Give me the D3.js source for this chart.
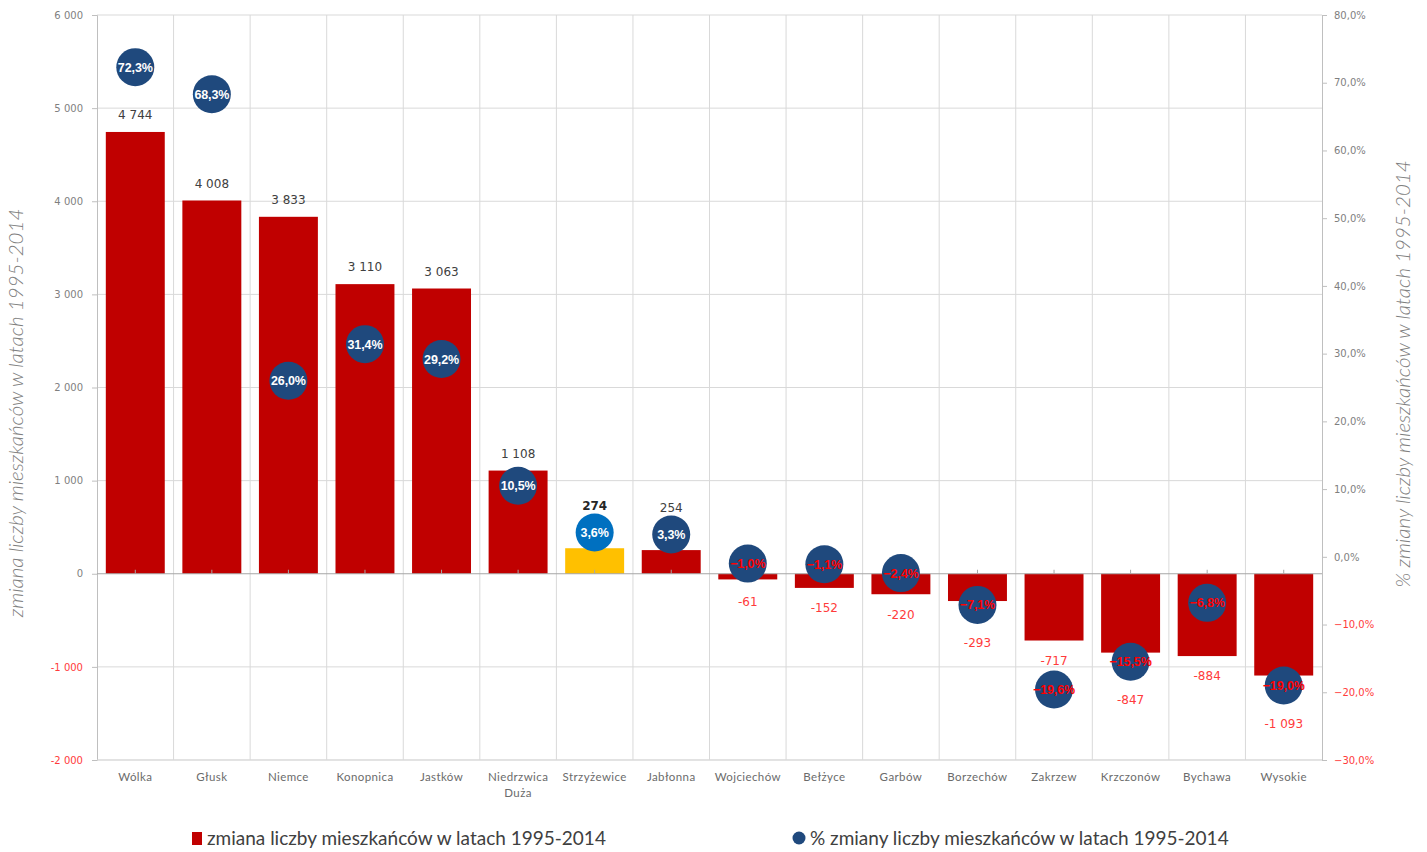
<!DOCTYPE html>
<html><head><meta charset="utf-8">
<script src="https://cdn.jsdelivr.net/npm/d3@7"></script>
<style>
body{margin:0;background:#fff;}
svg{display:block;}
</style></head>
<body>
<svg id="chart" width="1427" height="852"></svg>
<script>
const categories = ["Wólka","Głusk","Niemce","Konopnica","Jastków","Niedrzwica Duża","Strzyżewice","Jabłonna","Wojciechów","Bełżyce","Garbów","Borzechów","Zakrzew","Krzczonów","Bychawa","Wysokie"];
const changeValues = [4744,4008,3833,3110,3063,1108,274,254,-61,-152,-220,-293,-717,-847,-884,-1093];
const pctValues = [72.3,68.3,26.0,31.4,29.2,10.5,3.6,3.3,-1.0,-1.1,-2.4,-7.1,-19.6,-15.5,-6.8,-19.0];
const highlighted = "Strzyżewice";
const leftTicks = [-2000,-1000,0,1000,2000,3000,4000,5000,6000];
const rightTicks = [-30,-20,-10,0,10,20,30,40,50,60,70,80];
const legendLabels = ["zmiana liczby mieszkańców w latach 1995-2014","% zmiany liczby mieszkańców w latach 1995-2014"];
const leftTitle = "zmiana liczby mieszkańców w latach 1995-2014";
const rightTitle = "% zmiany liczby mieszkańców w latach 1995-2014";

const svg = d3.select("#chart");
const L = 97, R = 1322, T = 15, B = 760;
const x = d3.scaleBand().domain(categories).range([L, R]).paddingInner(0.23).paddingOuter(0.115);
const xb = d3.scaleBand().domain(categories).range([L, R]);
const y = d3.scaleLinear().domain([-2000, 6000]).range([B, T]);
const y2 = d3.scaleLinear().domain([-30, 80]).range([B, T]);

const grid = "#d9d9d9";
const fmtNum = v => { const s = d3.format(",")(Math.abs(v)).replace(/,/g, " "); return (v < 0 ? "-" : "") + s; };
const fmtPct = v => d3.format(".1f")(v).replace(".", ",") + "%";

// horizontal gridlines
svg.append("g").selectAll("line").data(leftTicks.filter(d => d !== 0)).join("line")
  .attr("x1", L).attr("x2", R).attr("y1", d => y(d)).attr("y2", d => y(d))
  .attr("stroke", grid).attr("stroke-width", 1);
// vertical gridlines at band boundaries
svg.append("g").selectAll("line").data(categories.slice(1)).join("line")
  .attr("x1", d => xb(d)).attr("x2", d => xb(d)).attr("y1", T).attr("y2", B)
  .attr("stroke", grid).attr("stroke-width", 1);

// left axis
const yAxis = d3.axisLeft(y).tickValues(leftTicks).tickSize(5).tickPadding(9).tickFormat(fmtNum);
const ga = svg.append("g").attr("transform", `translate(${L},0)`).call(yAxis);
ga.select(".domain").attr("stroke", "#bfbfbf");
ga.selectAll(".tick line").attr("stroke", "#bfbfbf");
ga.selectAll(".tick text").attr("font-family", "DejaVu Sans").attr("font-size", 10)
  .attr("fill", d => d < 0 ? "#ff3b3b" : "#7f7f7f");
// right axis
const y2Axis = d3.axisRight(y2).tickValues(rightTicks).tickSize(5).tickPadding(7).tickFormat(fmtPct);
const gb = svg.append("g").attr("transform", `translate(${R},0)`).call(y2Axis);
gb.select(".domain").attr("stroke", "#bfbfbf");
gb.selectAll(".tick line").attr("stroke", "#bfbfbf");
gb.selectAll(".tick text").attr("font-family", "DejaVu Sans").attr("font-size", 10)
  .attr("fill", d => d < 0 ? "#ff3b3b" : "#7f7f7f");
// bottom border
svg.append("line").attr("x1", L).attr("x2", R).attr("y1", B).attr("y2", B).attr("stroke", grid);

// bars
const data = categories.map((c, i) => ({c, v: changeValues[i], p: pctValues[i]}));
svg.append("g").selectAll("rect").data(data).join("rect")
  .attr("x", d => x(d.c)).attr("width", x.bandwidth())
  .attr("y", d => y(Math.max(0, d.v))).attr("height", d => Math.abs(y(d.v) - y(0)))
  .attr("fill", d => d.c === highlighted ? "#ffc000" : "#c00000");

// zero line and category ticks
svg.append("line").attr("x1", L).attr("x2", R).attr("y1", y(0)).attr("y2", y(0)).attr("stroke", "#a6a6a6");
svg.append("g").selectAll("line").data(categories).join("line")
  .attr("x1", d => x(d) + x.bandwidth()/2).attr("x2", d => x(d) + x.bandwidth()/2)
  .attr("y1", y(0) - 4).attr("y2", y(0)).attr("stroke", "#a6a6a6");

// category labels
const cl = svg.append("g").selectAll("text").data(categories).join("text")
  .attr("x", d => x(d) + x.bandwidth()/2).attr("y", 781)
  .attr("text-anchor", "middle").attr("font-family", "Lato").attr("font-size", 11.5)
  .attr("letter-spacing", 0.4).attr("fill", "#6b6b6b");
cl.each(function(d) {
  const parts = d === "Niedrzwica Duża" ? ["Niedrzwica", "Duża"] : [d];
  const t = d3.select(this);
  parts.forEach((p, i) => t.append("tspan").attr("x", x(d) + x.bandwidth()/2).attr("dy", i ? 16 : 0).text(p));
});

// bubbles
const R0 = 19;
const bubbles = svg.append("g").selectAll("g").data(data).join("g")
  .attr("transform", d => `translate(${x(d.c) + x.bandwidth()/2},${y2(d.p)})`);
bubbles.append("circle").attr("r", R0)
  .attr("fill", d => d.c === highlighted ? "#0070c0" : "#1f497d");
bubbles.append("text").attr("text-anchor", "middle").attr("dy", "0.36em")
  .attr("font-family", "Liberation Sans").attr("font-weight", "bold").attr("font-size", 12.5)
  .attr("letter-spacing", -0.1)
  .attr("fill", d => d.p < 0 ? "#ff0000" : "#ffffff")
  .text(d => fmtPct(d.p));

// value labels
function labelY(d) {
  const cy = y2(d.p), top = cy - R0, bot = cy + R0;
  if (d.v >= 0) {
    const barTop = y(d.v);
    let ly = barTop - 17;
    if (bot > barTop - 25 && top < barTop) ly = Math.min(ly, top - 8);
    return ly;
  } else {
    const barBot = y(d.v);
    let ly = barBot + 20;
    if (top < barBot + 25 && bot > barBot) ly = Math.max(ly, bot + 19);
    return ly;
  }
}
svg.append("g").selectAll("text").data(data).join("text")
  .attr("x", d => x(d.c) + x.bandwidth()/2).attr("y", labelY).attr("dy", "0.36em")
  .attr("text-anchor", "middle").attr("font-family", "DejaVu Sans").attr("font-size", 12)
  .attr("font-weight", d => d.c === highlighted ? "bold" : "normal")
  .attr("fill", d => d.v < 0 ? "#ff3b3b" : (d.c === highlighted ? "#262626" : "#404040"))
  .text(d => fmtNum(d.v));

// axis titles
svg.append("text").attr("transform", `translate(23,413) rotate(-90)`)
  .attr("text-anchor", "middle").attr("font-family", "Lato").attr("font-style", "italic").attr("font-weight", 300)
  .attr("font-size", 20.5).attr("fill", "#7f7f7f").text(leftTitle);
svg.append("text").attr("transform", `translate(1410,374) rotate(-90)`)
  .attr("text-anchor", "middle").attr("font-family", "Lato").attr("font-style", "italic").attr("font-weight", 300)
  .attr("font-size", 20.5).attr("fill", "#7f7f7f").text(rightTitle);

// legend
svg.append("rect").attr("x", 192).attr("y", 832).attr("width", 10).attr("height", 13).attr("fill", "#c00000");
svg.append("text").attr("x", 207).attr("y", 838).attr("dy", "0.36em").attr("font-family", "Lato")
  .attr("font-size", 19).attr("fill", "#404040").text(legendLabels[0]);
svg.append("circle").attr("cx", 799).attr("cy", 838).attr("r", 6.5).attr("fill", "#1f497d");
svg.append("text").attr("x", 810).attr("y", 838).attr("dy", "0.36em").attr("font-family", "Lato")
  .attr("font-size", 19).attr("fill", "#404040").text(legendLabels[1]);
</script>
</body></html>
